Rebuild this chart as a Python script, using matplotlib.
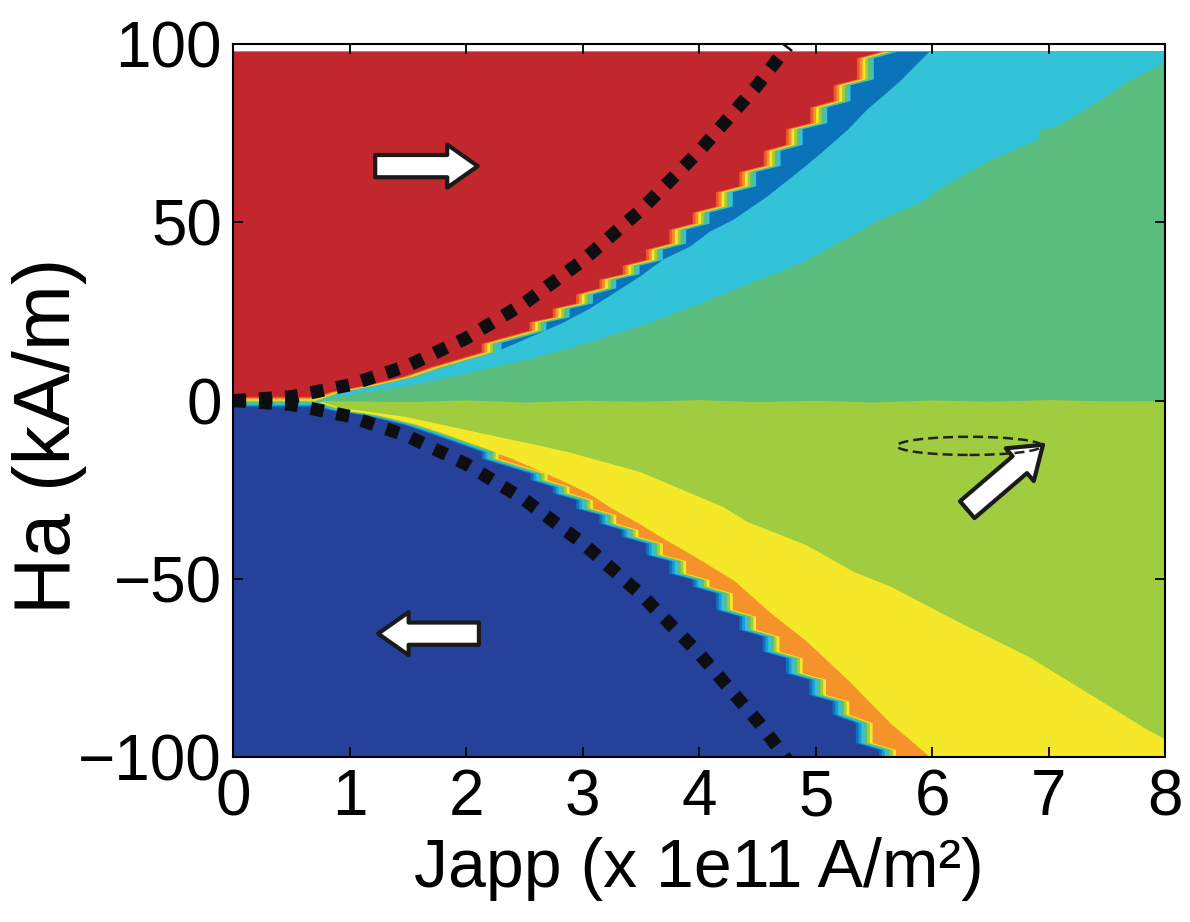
import numpy as np
import matplotlib
matplotlib.use("Agg")
import matplotlib.pyplot as plt
from matplotlib.patches import Ellipse

plt.rcParams['font.family'] = ['Liberation Sans', 'DejaVu Sans']

# simulated range: current Japp (x 1e11 A/m2) and field Ha (kA/m)
j_range = [0, 8]
h_range = [-100, 98]

# edge of the +x state (red), staircase
red_x = [0.0, 0.70, 0.83, 1.12, 1.45, 1.69, 2.13, 2.13, 2.54, 2.54, 2.74, 2.74, 2.94, 2.94,
         3.14, 3.14, 3.34, 3.34, 3.54, 3.54, 3.74, 3.74, 3.94, 3.94, 4.14, 4.14, 4.34, 4.34,
         4.55, 4.55, 4.74, 4.74, 4.95, 4.95, 5.15, 5.15, 5.35, 5.35, 5.55]
red_y = [1.2, 1.2, 2.5, 4.3, 6.8, 9.5, 13.7, 16.1, 19.8, 22.1, 23.5, 25.9, 27.4, 29.9,
         31.7, 34.1, 35.6, 38.0, 39.6, 42.5, 44.2, 48.1, 49.8, 52.9, 54.6, 58.6, 60.3, 64.3,
         66.0, 70.2, 71.9, 76.3, 78.0, 82.4, 84.2, 88.6, 90.3, 96.2, 98.0]

# edge of the -x state (dark blue)
blue_x = [0.0, 0.70, 0.83, 1.12, 1.45, 1.69, 2.13, 2.13, 2.55, 2.55, 2.74, 2.74, 2.94, 2.94,
          3.14, 3.14, 3.33, 3.33, 3.54, 3.54, 3.74, 3.74, 3.94, 3.94, 4.14, 4.14, 4.34, 4.34,
          4.54, 4.54, 4.74, 4.74, 4.94, 4.94, 5.14, 5.14, 5.34, 5.34, 5.54, 5.54]
blue_y = [-1.7, -1.7, -2.6, -4.0, -6.6, -9.2, -14.3, -16.2, -20.4, -22.2, -24.1, -25.9, -27.8, -30.2,
          -32.0, -34.4, -36.2, -38.1, -40.0, -43.2, -44.9, -48.4, -50.2, -52.1, -54.0, -58.6, -60.5, -64.2,
          -66.1, -70.3, -72.2, -76.4, -78.2, -82.5, -84.3, -88.0, -90.4, -96.0, -97.9, -100.0]

# mid blue band (upper) / orange band (lower)
dblue_x = [2.30, 2.81, 3.05, 3.29, 3.49, 3.69, 3.92, 4.09, 4.29, 4.58, 4.87, 5.04, 5.27, 5.44, 5.61, 5.73, 5.97]
dblue_y = [14.5, 21.7, 25.8, 30.8, 35.0, 39.8, 43.4, 47.6, 50.9, 57.4, 64.9, 69.5, 76.1, 81.9, 86.6, 90.1, 98.0]
orange_x = [2.20, 2.39, 2.81, 3.05, 3.25, 3.48, 3.69, 3.95, 4.30, 4.61, 4.92, 5.28, 5.64, 5.98]
orange_y = [-14.0, -16.2, -22.2, -26.0, -30.2, -34.4, -38.6, -43.5, -50.5, -59.5, -67.5, -78.5, -90.5, -100.0]

# cyan / green boundary (upper half)
green_x = [0.80, 1.12, 1.52, 1.98, 2.55, 3.06, 3.32, 3.59, 4.09, 4.44, 4.87, 5.30, 5.53, 5.90,
           6.08, 6.51, 6.91, 6.92, 7.10, 7.41, 7.69, 8.00]
green_y = [0.6, 2.5, 4.4, 7.6, 11.9, 16.5, 19.3, 22.1, 28.5, 33.1, 38.7, 46.3, 50.7, 55.7,
           59.9, 67.8, 73.4, 75.9, 77.6, 83.8, 89.9, 95.2]

# green / yellow-green boundary near Ha = 0
wave_x = [0.8, 1.5, 2.0, 2.5, 3.0, 3.5, 4.0, 4.5, 5.0, 5.5, 6.0, 6.5, 7.0, 7.5, 8.0]
wave_y = [0.0, -0.3, 0.2, -0.4, 0.1, -0.2, 0.3, -0.3, 0.1, -0.4, 0.2, -0.2, 0.3, -0.1, 0.0]

# yellow / yellow-green boundary (lower half)
yg_x = [0.87, 1.49, 2.15, 2.61, 2.87, 3.49, 4.20, 4.41, 4.92, 5.32, 5.64, 6.25, 6.82, 7.38, 7.84, 8.00]
yg_y = [-1.7, -4.5, -9.2, -12.4, -14.3, -19.9, -29.7, -33.9, -40.5, -47.9, -52.1, -62.5, -71.7, -82.9, -92.2, -95.0]

# analytic threshold (dotted)
thr_x = [0, 0.5, 1.0, 1.5, 2.0, 2.5, 3.0, 3.5, 4.0, 4.5, 4.76]
thr_up = [0, 1.1, 4.4, 9.8, 17.5, 27.3, 39.3, 53.5, 70.0, 88.5, 99.5]
thr_dn = [0, -1.1, -4.4, -10.0, -17.8, -27.8, -40.0, -54.4, -71.0, -89.9, -101.0]

c_red = '#C1272D'
c_navy = '#26419A'
c_mblue = '#0A73BA'
c_cyan = '#33C3D9'
c_green = '#5BBD7E'
c_yg = '#A0CD3F'
c_yel = '#F4E829'
c_org = '#F6922A'

red_strip = [c_cyan, c_green, c_yg, c_yel, c_org, '#EC5A28']   # outer -> inner
blue_strip = [c_yel, c_yg, c_green, c_cyan, '#1E9AD6', c_mblue]


def layer(xs, ys, k, dx, dy):
    x = np.array(xs, float)
    y = np.array(ys, float)
    flat = x <= 0.7
    return np.where(flat, x, x + k * dx), np.where(flat, y + k * dy, y)


fig = plt.figure(figsize=(11.9, 9.22), dpi=100)
ax = fig.add_axes([0.1958, 0.179, 0.7835, 0.773])
ax.set_xlim(j_range)
ax.set_ylim(-100, 100)

ax.axhspan(0, h_range[1], color=c_cyan, lw=0)
ax.axhspan(h_range[0], 0, color=c_yg, lw=0)
ax.fill_between(green_x, -1, green_y, color=c_green, lw=0)
ax.fill_between(wave_x, -3, wave_y, color=c_yg, lw=0)
ax.fill_between(dblue_x, dblue_y, h_range[1], color=c_mblue, lw=0)
ax.fill_between(yg_x, yg_y, h_range[0], color=c_yel, lw=0)
ax.fill_between(orange_x, orange_y, h_range[0], color=c_org, lw=0)

n = len(blue_strip)
for i, col in enumerate(blue_strip):
    xx, yy = layer(blue_x, blue_y, n - i, 0.024, 0.35)
    ax.fill_between(xx, yy, h_range[0], color=col, lw=0)
ax.fill_between(blue_x, blue_y, h_range[0], color=c_navy, lw=0)

n = len(red_strip)
for i, col in enumerate(red_strip):
    xx, yy = layer(red_x, red_y, n - i, 0.024, -0.35)
    ax.fill_between(xx, yy, h_range[1], color=col, lw=0)
ax.fill_between(red_x, red_y, h_range[1], color=c_red, lw=0)

for yy in (thr_up, thr_dn):
    ax.plot(thr_x, yy, color='#0d0d12', lw=9.4, linestyle=(0, (1, 1)),
            dash_capstyle='butt', zorder=5)

arrow = dict(arrowstyle='simple,head_length=1.1,head_width=1.55,tail_width=0.8',
             mutation_scale=20, fc='white', ec='#1a1a1a', lw=3, shrinkA=0, shrinkB=0)
ax.annotate('', xy=(2.10, 65.8), xytext=(1.22, 65.8), arrowprops=arrow, zorder=6)
ax.annotate('', xy=(1.245, -65.4), xytext=(2.11, -65.4), arrowprops=arrow, zorder=6)
ax.annotate('', xy=(6.95, -12.4), xytext=(6.30, -30.6), arrowprops=arrow, zorder=6)
ax.add_patch(Ellipse((6.32, -12.7), 1.245, 5.1, fill=False, ec='#222222', lw=1.8,
                     ls=(0, (4, 2)), zorder=6))

ax.set_xticks(range(0, 9))
ax.set_yticks([-100, -50, 0, 50, 100])
ax.tick_params(direction='in', top=True, right=True, length=7, width=1.3,
               labelsize=46, colors='black')
ax.tick_params(axis='x', pad=8)
ax.tick_params(axis='y', pad=8)
for s in ax.spines.values():
    s.set_linewidth(1.5)
    s.set_zorder(10)

ax.set_xlabel('Japp (x 1e11 A/m²)', fontsize=49)
ax.set_ylabel('Ha (kA/m)', fontsize=57)
ax.xaxis.set_label_coords(0.5, -0.112)
ax.yaxis.set_label_coords(-0.157, 0.45)

fig.savefig('out.png', dpi=100)
